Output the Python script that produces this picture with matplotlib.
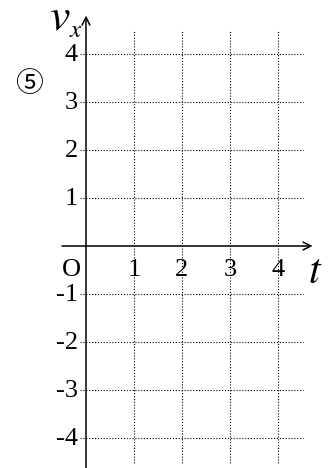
import matplotlib.pyplot as plt

plt.rcParams['font.family'] = ['Liberation Serif', 'Noto Sans CJK JP', 'DejaVu Sans']
plt.rcParams['mathtext.fontset'] = 'stix'

# valores de las marcas
t_ticks = [1, 2, 3, 4]
v_ticks = [4, 3, 2, 1, -1, -2, -3, -4]
t_labels = ['1', '2', '3', '4']
v_labels = ['4', '3', '2', '1', '-1', '-2', '-3', '-4']

# límites de la cuadrícula
t_grid_min, t_grid_max = -0.125, 4.52
v_grid_min, v_grid_max = -4.52, 4.48

fig = plt.figure(figsize=(3.32, 4.68), dpi=100)
ax = fig.add_axes([0, 0, 1, 1])
# escala: 48 px por unidad, origen en (86, 246)
ax.set_xlim(-86 / 48, (332 - 86) / 48)
ax.set_ylim(-(468 - 246) / 48, 246 / 48)
ax.axis('off')

dot = (0, (1, 1.6))
ax.hlines(v_ticks, t_grid_min, t_grid_max, colors='black', linewidth=0.8, linestyles=dot)
ax.vlines(t_ticks, v_grid_min, v_grid_max, colors='black', linewidth=0.8, linestyles=dot)

# ejes con flecha
arrow = dict(arrowstyle='->', color='black', lw=1.1, mutation_scale=14, shrinkA=0, shrinkB=0)
ax.annotate('', xy=(4.72, 0), xytext=(-0.5, 0), arrowprops=arrow)
ax.annotate('', xy=(0, 4.8), xytext=(0, -4.7), arrowprops=arrow)

for t, lab in zip(t_ticks, t_labels):
    ax.text(t, -0.5, lab, fontsize=19, ha='center', va='center')
for v, lab in zip(v_ticks, v_labels):
    ax.text(-0.17, v - 0.03, lab, fontsize=19, ha='right', va='center')
ax.text(-0.3, -0.5, 'O', fontsize=19, ha='center', va='center')

ax.text(4.78, -0.55, r'$t$', fontsize=30, ha='center', va='center')
ax.text(-0.55, 4.5, r'$v$', fontsize=33, ha='center', va='baseline')
ax.text(-0.22, 4.36, r'$x$', fontsize=18, ha='center', va='baseline')
ax.text(-1.2, 3.35, '⑤', fontsize=20, ha='center', va='center')

fig.savefig('out.png', dpi=100)
